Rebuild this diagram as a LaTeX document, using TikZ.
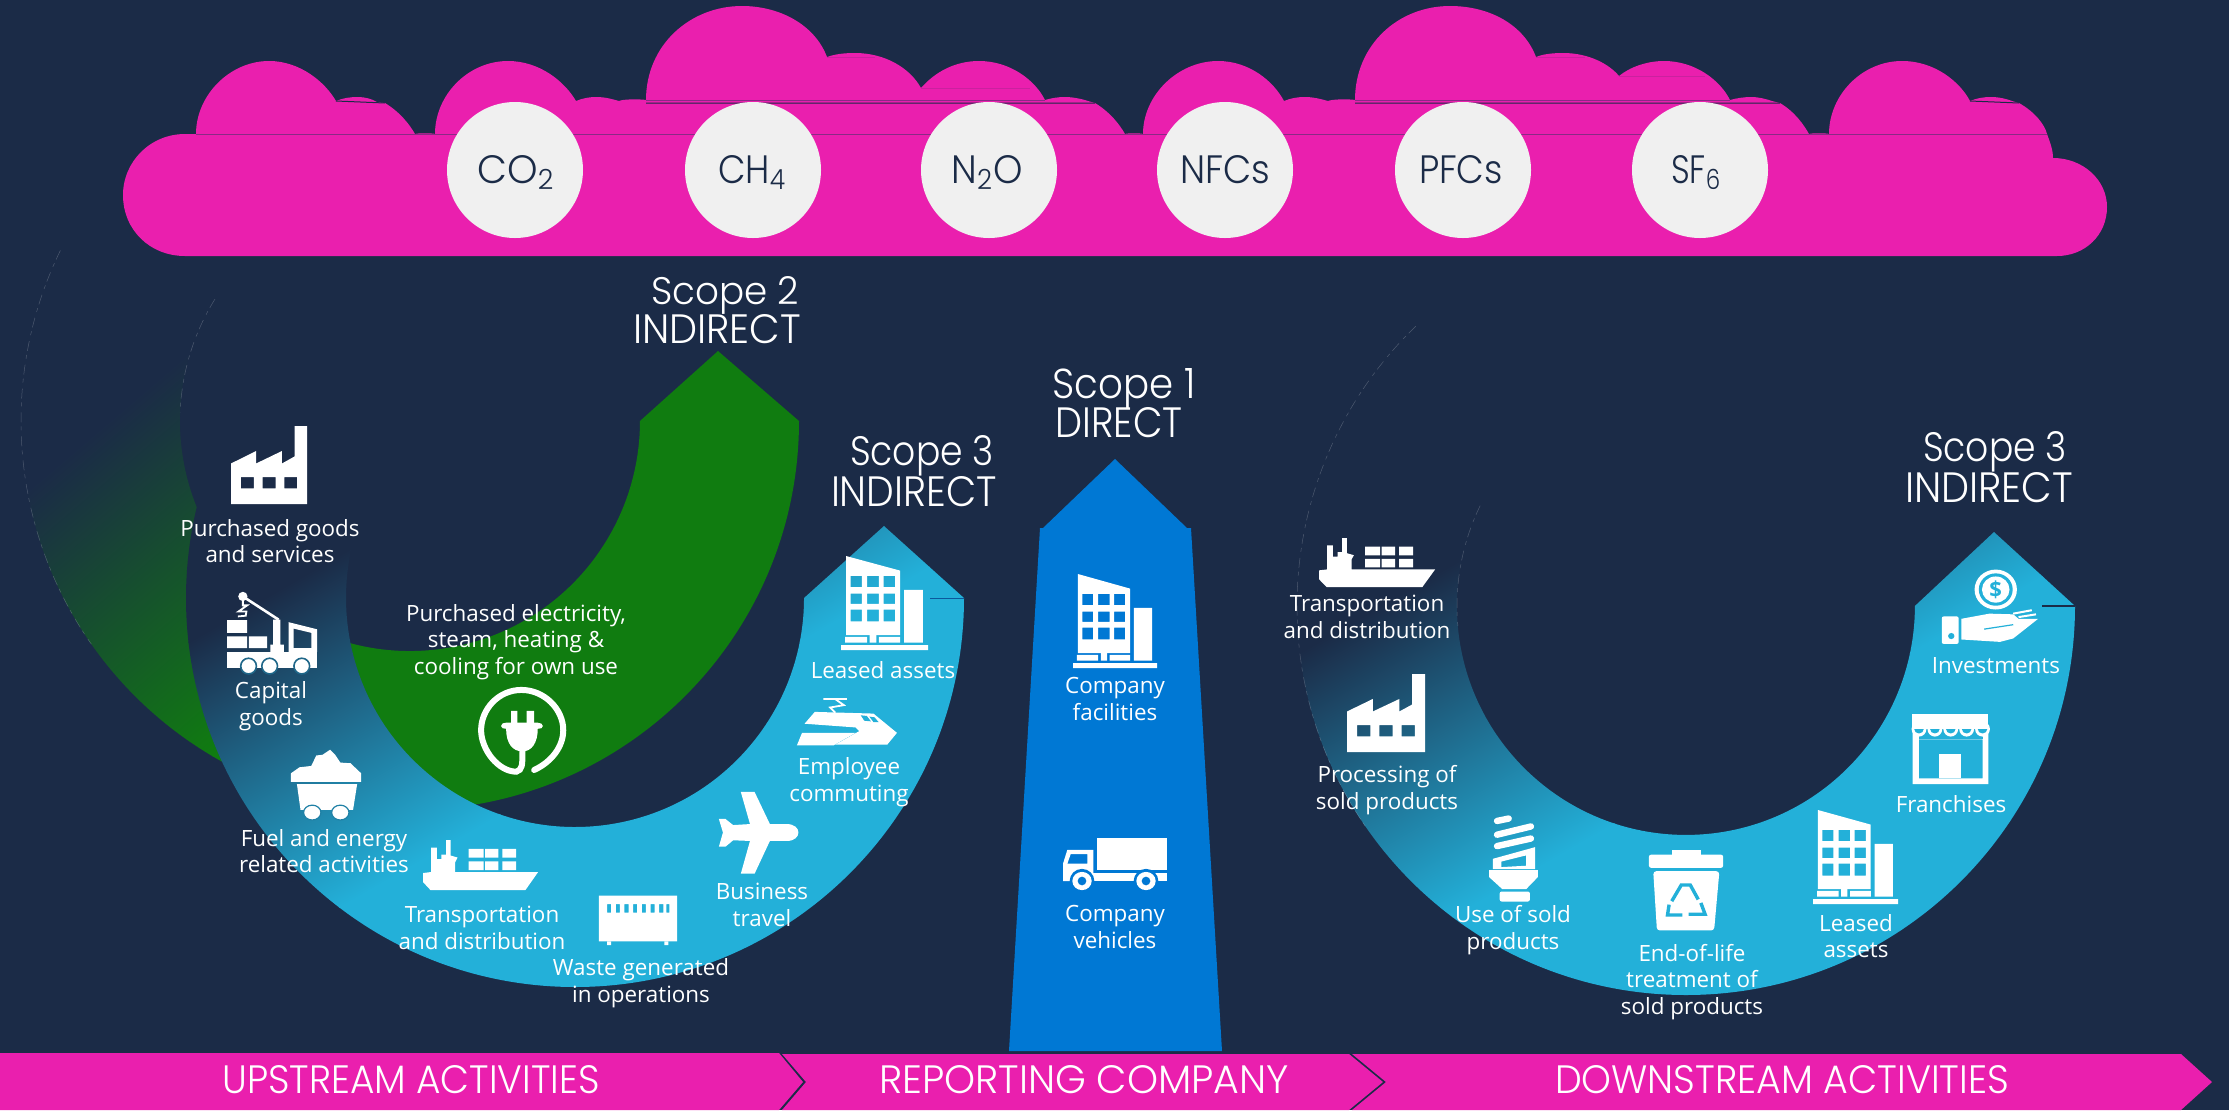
\documentclass[tikz,border=0pt]{standalone}
\usepackage{fontspec}
\usepackage{graphicx}
\setmainfont{Open Sans}
\newfontfamily\geofont{Poppins Light}
\definecolor{navy}{HTML}{1B2B47}
\definecolor{pinkm}{HTML}{EA1FAE}
\definecolor{leaf}{HTML}{107C10}
\definecolor{sky}{HTML}{23B0D9}
\definecolor{azure}{HTML}{0078D4}
\definecolor{pale}{HTML}{F0F0F0}
\definecolor{pline}{HTML}{8A2A85}
\tikzset{
  lbl/.style={font=\fontsize{11.2}{13.4}\selectfont,text=white,align=center,inner sep=0pt},
  geotxt/.style={font=\geofont\fontsize{20}{24}\selectfont,text=white,inner sep=0pt,anchor=base},
  gasdisc/.style={circle,fill=pale,minimum size=68pt,inner sep=0pt},
  iconw/.style={fill=white,draw=none},
  ibox/.style n args={4}{shift={(#1,#2)},x=#3*0.005pt,y=-#4*0.005pt},
  zthree/.style={shift={(0,250)},x=0.17857pt,y=-0.17857pt},
  zfour/.style={shift={(200,520)},x=0.2551pt,y=-0.16892pt},
  zfive/.style={shift={(980,430)},x=0.16667pt,y=-0.21683pt},
  zsix/.style={shift={(1280,500)},x=0.26469pt,y=-0.17218pt},
  hair/.style={white,line width=0.25pt,opacity=0.22,dash pattern=on 5pt off 2pt on 2pt off 3pt},
  seam/.style={pline,line width=0.5pt},
  faintseam/.style={pinkm!85!navy,line width=0.3pt},
}
\newcommand\geotext[6]{\node[geotxt] (#1) at (#2,#3) {\resizebox{\dimexpr#4pt/2\relax}{\dimexpr#5pt/2\relax}{#6}};}
\newcommand\gasmark[2]{#1\textsubscript{#2}}
% gradient: anchor x y, rotation, length, end colour
\newcommand\sweep[5]{\begin{scope}[transform canvas={rotate around={#3:(#1,#2)}}]
\fill[navy] (#1,#2) ++(-3000,-3000) rectangle ++(3001,6000);
\shade[left color=navy,right color=#5] (#1,#2) ++(0,-3000) rectangle ++(#4,6000);
\fill[#5] (#1,#2) ++(#4-1,-3000) rectangle ++(3000,6000);
\end{scope}}
\newcommand\factoryicon{\fill[iconw,even odd rule] (0,100)--(0,48)--(33,32)--(33,48)--(67,32)--(67,48)--(83.5,39)--(83.5,0)--(100,0)--(100,100)--cycle
  (13,65.5) rectangle (30,80) (41.5,65.5) rectangle (58.5,80) (70,65.5) rectangle (87,80);}
\newcommand\shipicon{\fill[iconw] (0,66)--(7,64)--(7,15)--(12,15)--(12,38)--(16,38)--(16,29)--(20,29)--(20,0)--(24,0)--(24,31)--(30,35)--(28,44)--(28,64)--(100,64)--(89,100)--(6.5,100)--(0,84)--cycle;
  \fill[iconw] (39.7,17.7) rectangle (52.6,35.4) (54,17.7) rectangle (65.5,35.4) (69,17.7) rectangle (81,35.4)
  (39.7,42.5) rectangle (52.6,60) (54,42.5) rectangle (65.5,60) (69,42.5) rectangle (81,60);}
\newcommand\towericon{\fill[iconw,even odd rule] (5.8,0)--(67.8,15.5)--(67.8,84)--(5.8,84)--cycle
  (11,21) rectangle (24,33) (30,21) rectangle (43.5,33) (49,21) rectangle (62,33)
  (11,40) rectangle (24,51) (30,40) rectangle (43.5,51) (49,40) rectangle (62,51)
  (11,57) rectangle (24,69.6) (30,57) rectangle (43.5,69.6) (49,57) rectangle (62,69.6);
  \fill[iconw] (4.7,86) rectangle (30,92) (43.5,86) rectangle (68,92) (33,77) rectangle (40.5,92) (72.5,36) rectangle (94,92) (0,94.6) rectangle (100,100);}
\begin{document}
\begin{tikzpicture}[x=0.5pt,y=-0.5pt]
\useasboundingbox (0,0) rectangle (2229,1110);
\fill[navy] (0,0) rectangle (2229,1110);

% cloud
\fill[pinkm] (185,134) -- (196,134)
 .. controls (196,95) and (230,61) .. (269,61) .. controls (300,61) and (325,82) .. (336,101)
 .. controls (343,98) and (350,97) .. (358,97) .. controls (365,97) and (372,99) .. (377,102)
 -- (385,103) .. controls (400,112) and (410,125) .. (415,134)
 .. controls (418,133) and (432,133) .. (435,134)
 .. controls (435,95) and (468,61) .. (508,61) .. controls (540,61) and (565,82) .. (576,101)
 .. controls (583,98) and (590,97) .. (596,97) .. controls (605,97) and (612,99) .. (619,101)
 .. controls (623,99) and (640,99) .. (646,100)
 .. controls (646,45) and (690,6) .. (742,6) .. controls (780,6) and (815,25) .. (827,57)
 .. controls (835,54) and (845,53) .. (855,53) .. controls (885,53) and (910,68) .. (921,88)
 .. controls (935,72) and (955,61) .. (979,61) .. controls (1010,61) and (1035,80) .. (1045,100)
 .. controls (1052,98) and (1058,97) .. (1065,97) .. controls (1073,97) and (1082,99) .. (1088,101)
 -- (1095,103) .. controls (1110,112) and (1120,125) .. (1125,134)
 .. controls (1128,133) and (1140,133) .. (1143,134)
 .. controls (1143,95) and (1178,61) .. (1218,61) .. controls (1250,61) and (1274,82) .. (1284,101)
 .. controls (1291,98) and (1298,97) .. (1305,97) .. controls (1313,97) and (1321,99) .. (1328,101)
 .. controls (1332,99) and (1350,99) .. (1355,100)
 .. controls (1355,45) and (1398,6) .. (1450,6) .. controls (1490,6) and (1524,25) .. (1536,57)
 .. controls (1543,54) and (1553,53) .. (1563,53) .. controls (1590,53) and (1610,65) .. (1619,76)
 .. controls (1630,67) and (1647,61) .. (1664,61) .. controls (1695,61) and (1720,80) .. (1730,100)
 .. controls (1737,98) and (1745,97) .. (1751,97) .. controls (1759,97) and (1766,99) .. (1772,101)
 -- (1780,103) .. controls (1795,112) and (1804,125) .. (1809,134)
 .. controls (1812,133) and (1826,133) .. (1829,134)
 .. controls (1829,95) and (1862,61) .. (1902,61) .. controls (1935,61) and (1960,82) .. (1970,101)
 .. controls (1977,98) and (1984,97) .. (1991,97) .. controls (1999,97) and (2007,99) .. (2012,101)
 -- (2019,103) .. controls (2035,112) and (2045,125) .. (2047,134)
 .. controls (2050,142) and (2053,150) .. (2053,158)
 .. controls (2083,158) and (2107,180) .. (2107,207) .. controls (2107,235) and (2085,256) .. (2057,256)
 -- (185,256) .. controls (150,256) and (123,230) .. (123,195) .. controls (123,162) and (150,134) .. (185,134) -- cycle;
\draw[seam] (196,134) -- (2047,134);
\draw[seam] (646,100) -- (1045,100) (1355,100) -- (1730,100);
\draw[faintseam] (921,88) -- (1030,88) (1619,76) -- (1705,76) (827,57) -- (875,57) (1536,57) -- (1585,57);
\draw[navy,line width=0.5pt] (646,103) -- (1095,103) (1355,103) -- (1780,103) (336,101) -- (385,103) (1970,101) -- (2019,103);

\node[gasdisc] (d1) at (515,170) {};
\node[gasdisc] (d2) at (753,170) {};
\node[gasdisc] (d3) at (989,170) {};
\node[gasdisc] (d4) at (1225,170) {};
\node[gasdisc] (d5) at (1463,170) {};
\node[gasdisc] (d6) at (1700,170) {};
\tikzset{geotxt/.append style={text=navy}}
\geotext{g1}{516}{183}{77}{28}{\gasmark{CO}{2}}
\geotext{g2}{752}{183}{68}{28}{\gasmark{CH}{4}}
\geotext{g3}{987}{183}{71}{28}{N\textsubscript{2}O}
\geotext{g4}{1225}{183}{90}{28}{NFCs}
\geotext{g5}{1461}{183}{84}{28}{PFCs}
\geotext{g6}{1696}{183}{50}{28}{\gasmark{SF}{6}}
\tikzset{geotxt/.append style={text=white}}

% green ring
\begin{scope}
\clip (799,421) arc[start angle=0,end angle=-210,radius=194.5pt] -- (210.8,306) arc[start angle=-210,end angle=0,radius=115pt] -- (718,351) -- cycle;
\sweep{253.5}{296.4}{-49.5}{324}{leaf}
\end{scope}
\draw[hair] (410,421) ++(154:194.5pt) arc[start angle=154,end angle=215,radius=194.5pt];
\draw[hair] (410,421) ++(148:115pt) arc[start angle=148,end angle=178,radius=115pt];

% left blue ring
\begin{scope}
\clip (964,598) arc[start angle=0,end angle=-220,radius=194.5pt] -- (399.6,450.8) arc[start angle=-220,end angle=0,radius=114.5pt] -- (884,526) -- cycle;
\sweep{325}{563}{-60}{306}{sky}
\end{scope}
\draw[azure!60!navy,line width=0.5pt] (930,598) -- (964,598);

% right blue ring
\begin{scope}
\clip (2075,606) arc[start angle=0,end angle=-225,radius=194.5pt] -- (1524,444) arc[start angle=-225,end angle=0,radius=114.5pt] -- (1994,532) -- cycle;
\sweep{607.5}{1052}{-60}{306}{sky}
\end{scope}
\draw[navy,line width=0.6pt] (2042,606) -- (2075,606);
\draw[hair] (1686,606) ++(134:194.5pt) arc[start angle=134,end angle=215,radius=194.5pt];
\draw[hair] (1686,606) ++(154:114.5pt) arc[start angle=154,end angle=185,radius=114.5pt];

% centre column
\fill[azure] (1115,459) -- (1187,528) -- (1191,528) -- (1222,1051) -- (1009,1051) -- (1040,528) -- (1043,528) -- cycle;

% bottom band
\fill[pinkm] (0,1053) -- (779,1053) -- (803,1082) -- (779,1110) -- (0,1110) -- cycle;
\fill[pinkm] (782,1054) -- (1349,1054) -- (1383,1082) -- (1349,1110) -- (782,1110) -- (806,1082) -- cycle;
\fill[pinkm] (1352,1054) -- (2181,1054) -- (2212,1082) -- (2181,1110) -- (1352,1110) -- (1386,1082) -- cycle;

% icons
\begin{scope}[ibox={231}{426}{76}{78}]\factoryicon\end{scope}
\begin{scope}[ibox={1347}{674}{78}{78}]\factoryicon\end{scope}
\begin{scope}[ibox={423}{840}{115}{50}]\shipicon\end{scope}
\begin{scope}[ibox={1319}{538}{116}{49}]\shipicon\end{scope}
\begin{scope}[ibox={841}{556}{87}{94}]\towericon\end{scope}
\begin{scope}[ibox={1073}{574}{84}{94}]\towericon\end{scope}
\begin{scope}[ibox={1813}{810}{85}{94}]\towericon\end{scope}

% crane truck
\begin{scope}[zthree]
\fill[iconw] (636,1036) rectangle (692,1072) (636,1082) rectangle (692,1115) (697,1082) rectangle (748,1115);
\fill[iconw] (636,1125) rectangle (888,1170);
\fill[iconw] (765,1035) rectangle (785,1105) (757,1105) rectangle (795,1125);
\fill[iconw,even odd rule] (808,1042) -- (888,1062) -- (888,1125) -- (808,1125) -- cycle (822,1060) -- (872,1072) -- (872,1115) -- (822,1115) -- cycle;
\draw[white,line width=1.3pt] (680,970) -- (780,1035);
\fill[iconw] (680,970) circle[radius=13];
\draw[white,line width=0.9pt] (680,975) -- (680,995) -- (692,995) -- (668,1012) -- (690,1012) -- (688,1024) -- (666,1026);
\foreach \wx in {696,755,845}{\fill[white,draw=navy!55!sky,line width=0.8pt] (\wx,1165) circle[radius=22];}
\end{scope}

% left-hand icons
\begin{scope}[zfour]
\fill[iconw] (178,775) -- (178,750) -- (195,732) -- (218,728) -- (228,697) -- (240,695) -- (255,680) -- (265,695) -- (275,718) -- (295,720) -- (316,750) -- (316,775) -- cycle;
\fill[iconw] (190,782) -- (308,782) -- (300,858) -- (197,858) -- cycle;
\fill[white,draw=navy!35!sky,line width=0.6pt] (220,866) circle[x radius=17,y radius=22];
\fill[white,draw=navy!35!sky,line width=0.6pt] (275,866) circle[x radius=17,y radius=22];
% waste
\fill[iconw,even odd rule] (782,1112) rectangle (935,1247)
 (798,1137) rectangle (806,1162) (815,1137) rectangle (823,1162) (832,1137) rectangle (840,1162) (849,1137) rectangle (857,1162)
 (866,1137) rectangle (874,1162) (883,1137) rectangle (891,1162) (900,1137) rectangle (908,1162) (914,1137) rectangle (920,1162);
\fill[iconw] (798,1247) rectangle (806,1258) (910,1247) rectangle (918,1258);
% plane
\fill[iconw] (1060,805) -- (1087,805) -- (1117,900) -- (1150,900) .. controls (1165,900) and (1173,912) .. (1173,925) .. controls (1173,938) and (1165,950) .. (1150,950) -- (1117,950) -- (1087,1047) -- (1060,1047) -- (1078,950) -- (1045,948) -- (1030,967) -- (1017,967) -- (1025,925) -- (1017,885) -- (1030,885) -- (1045,903) -- (1078,900) -- cycle;
% train
\fill[iconw] (1185,603) -- (1205,568) -- (1320,573) -- (1366,630) -- (1347,665) -- (1245,665) -- (1292,625) -- (1285,614) -- cycle;
\fill[iconw] (1180,630) -- (1285,630) -- (1242,667) -- (1170,667) -- cycle;
\fill[sky] (1295,578) -- (1307,580) -- (1315,596) -- (1302,594) -- cycle (1312,582) -- (1322,584) -- (1330,598) -- (1320,598) -- cycle;
\draw[white,line width=0.9pt] (1222,530) -- (1268,530) (1245,530) -- (1262,548) -- (1235,555) -- (1245,570);
% plug
\draw[white,line width=3pt,line cap=round] (655,740) .. controls (690,715) and (712,670) .. (712,622) .. controls (712,560) and (675,503) .. (630,503) .. controls (585,503) and (551,560) .. (551,622) .. controls (551,680) and (585,745) .. (620,745) .. controls (632,740) and (632,725) .. (632,685);
\fill[iconw] (610,565) rectangle (622,602) (640,565) rectangle (655,602);
\fill[iconw] (590,610) .. controls (590,602) and (595,600) .. (600,600) -- (662,600) .. controls (668,600) and (672,604) .. (672,610) .. controls (672,616) and (668,618) .. (662,618) .. controls (662,660) and (650,685) .. (632,685) .. controls (612,685) and (600,660) .. (600,618) .. controls (595,618) and (590,616) .. (590,610) -- cycle;
\end{scope}

% truck
\begin{scope}[zfive]
\fill[iconw] (352,941) rectangle (561,1015);
\fill[iconw] (340,1022) rectangle (561,1040);
\fill[iconw,even odd rule] (249,1040) -- (249,1000) -- (262,968) -- (340,968) -- (340,1040) -- cycle (262,1000) -- (272,978) -- (322,978) -- (322,1000) -- cycle;
\foreach \wx in {306,498}{
 \fill[azure] (\wx,1040) circle[x radius=37,y radius=28];
 \fill[white] (\wx,1040) circle[x radius=29,y radius=21];
 \fill[azure] (\wx,1040) circle[x radius=13,y radius=10];}
\end{scope}

% right-hand icons
\begin{scope}[zsix]
% bulb
\draw[white,line width=3.2pt,line cap=round] (410,932) -- (432,925) (410,972) -- (474,948) (410,1005) -- (474,983);
\fill[iconw,even odd rule] (402,1042) -- (482,1008) -- (482,1072) -- (402,1072) -- cycle (418,1050) -- (465,1032) -- (465,1062) -- (418,1066) -- cycle;
\fill[iconw] (395,1075) -- (487,1075) -- (487,1095) -- (465,1130) -- (420,1130) -- (395,1095) -- cycle;
\fill[iconw,rounded corners=1pt] (415,1137) rectangle (472,1166);
% bin
\fill[iconw] (740,1015) rectangle (795,1032);
\fill[iconw,rounded corners=1pt] (697,1030) rectangle (837,1068);
\fill[iconw,rounded corners=1.5pt] (705,1078) -- (830,1078) -- (820,1250) -- (712,1250) -- cycle;
\draw[sky,line width=1.7pt] (740,1165) -- (758,1118) -- (775,1118) -- (790,1160) (735,1175) -- (732,1205) -- (760,1205) (772,1203) -- (803,1203) -- (795,1170);
% shop
\fill[iconw] (1193,620) rectangle (1338,665);
\fill[iconw,even odd rule] (1195,670) rectangle (1338,825) (1207,695) rectangle (1327,808);
\fill[iconw] (1245,737) rectangle (1287,808);
\fill[sky] (1207,665) rectangle (1327,695);
\foreach \sx in {1207,1237,1267,1297,1327}{
 \fill[white] (\sx,665) circle[x radius=14,y radius=22];}
\foreach \sx in {1207,1237,1267,1297,1327}{
 \fill[sky] (\sx,665) circle[x radius=9,y radius=13];}
\fill[iconw] (1193,645) rectangle (1338,665);
% hand and coin
\fill[iconw] (1352,260) circle[x radius=40,y radius=58];
\fill[sky] (1352,260) circle[x radius=32,y radius=47];
\fill[iconw] (1352,260) circle[x radius=26,y radius=38];
\node[font=\bfseries\fontsize{11}{11}\selectfont,text=sky,inner sep=0pt] (dollar) at (1352,262) {\$};
\fill[iconw,rounded corners=1pt] (1250,338) rectangle (1282,418);
\fill[iconw] (1287,345) -- (1340,330) -- (1385,332) -- (1395,345) -- (1432,345) -- (1385,402) -- (1360,412) -- (1287,405) -- cycle;
\draw[sky,line width=0.6pt] (1330,375) -- (1385,362);
\draw[white,line width=1pt] (1385,330) -- (1420,320) (1395,340) -- (1428,332);
\fill[sky] (1268,395) circle[x radius=6,y radius=9];
\end{scope}

% scope captions
\geotext{s2a}{725}{304}{148}{28}{Scope 2}
\geotext{s2b}{717}{343}{168}{29}{INDIRECT}
\geotext{s3a}{922}{465}{144}{30}{Scope 3}
\geotext{s3b}{914}{506}{166}{30}{INDIRECT}
\geotext{s1a}{1124}{398}{143}{30}{Scope 1}
\geotext{s1b}{1119}{437}{127}{30}{DIRECT}
\geotext{s3c}{1995}{461}{144}{30}{Scope 3}
\geotext{s3d}{1989}{502}{168}{30}{INDIRECT}

% band captions
\geotext{b1}{411}{1093}{377}{28}{UPSTREAM ACTIVITIES}
\geotext{b2}{1084}{1093}{410}{28}{REPORTING COMPANY}
\geotext{b3}{1782}{1093}{454}{28}{DOWNSTREAM ACTIVITIES}

% labels
\node[lbl] (t1) at (270,541) {Purchased goods\\and services};
\node[lbl] (t2) at (271,706) {Capital\\goods};
\node[lbl] (t3) at (516,642) {Purchased electricity,\\steam, heating \&\\cooling for own use};
\node[lbl] (t4) at (324,851) {Fuel and energy\\related activities};
\node[lbl] (t5) at (482,928) {Transportation\\and distribution};
\node[lbl] (t6) at (641,983) {Waste generated\\in operations};
\node[lbl] (t7) at (762,905) {Business\\travel};
\node[lbl] (t8) at (849,782) {Employee\\commuting};
\node[lbl] (t9) at (883,670) {Leased assets};
\node[lbl] (c1) at (1115,699) {Company\\facilities};
\node[lbl] (c2) at (1115,927) {Company\\vehicles};
\node[lbl] (r1) at (1367,617) {Transportation\\and distribution};
\node[lbl] (r2) at (1387,790) {Processing of\\sold products};
\node[lbl] (r3) at (1513,930) {Use of sold\\products};
\node[lbl] (r4) at (1692,982) {End-of-life\\treatment of\\sold products};
\node[lbl] (r5) at (1856,936) {Leased\\assets};
\node[lbl] (r6) at (1951,804) {Franchises};
\node[lbl] (r7) at (1996,666) {Investments};
\end{tikzpicture}
\end{document}
